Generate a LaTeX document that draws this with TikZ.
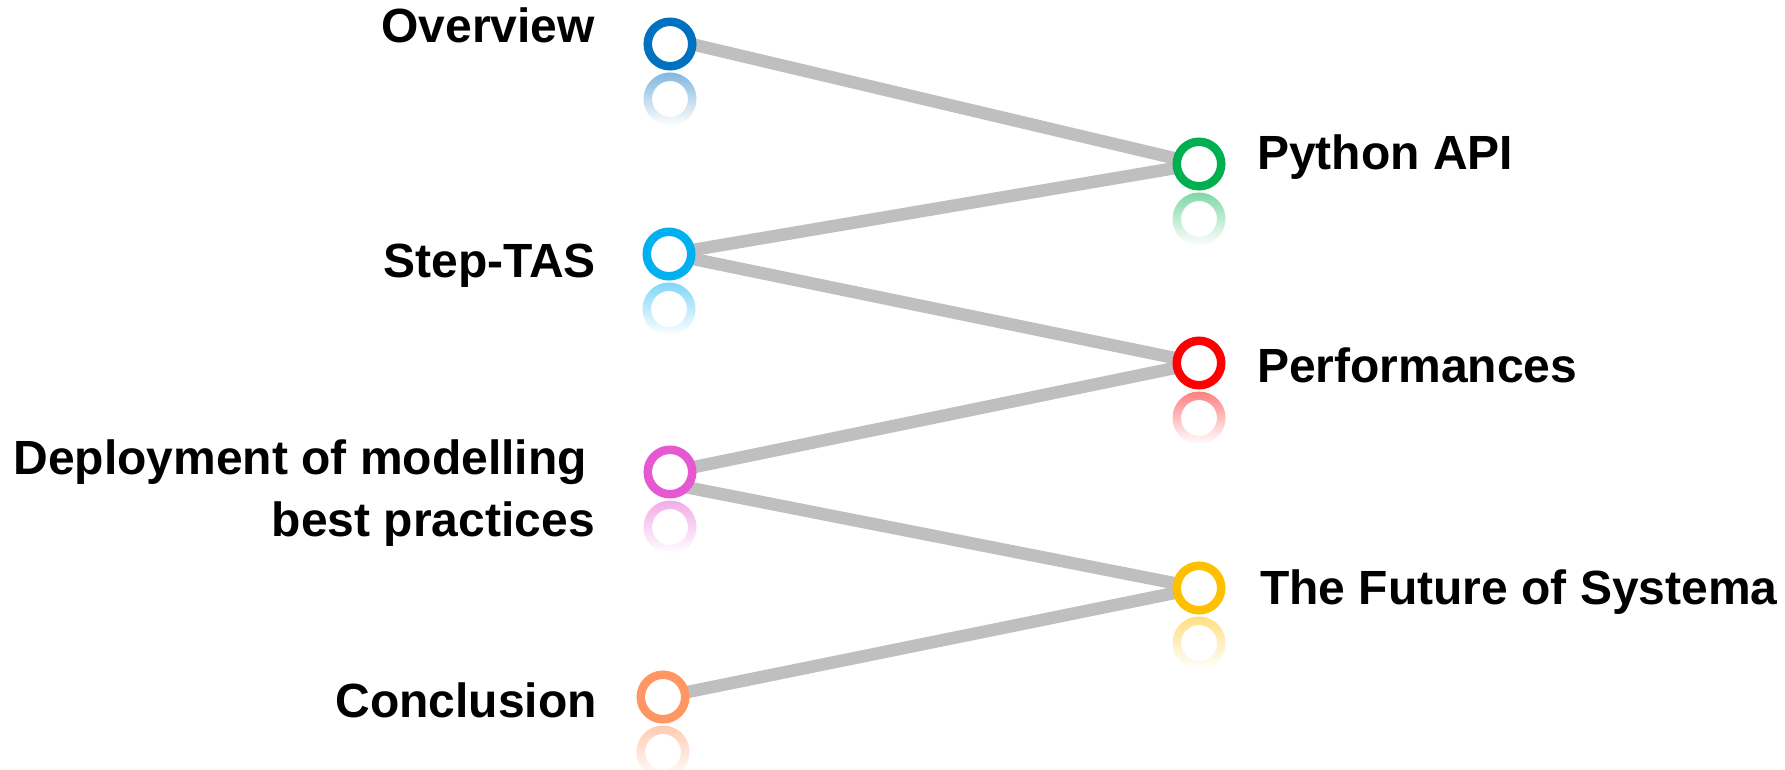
\documentclass[tikz,border=0pt]{standalone}
\usepackage{fontspec}
\setmainfont{Liberation Sans}
\usetikzlibrary{fadings}
\pgfdeclarelayer{bg}
\pgfsetlayers{bg,main}
\definecolor{ovc}{RGB}{0,112,192}
\definecolor{stc}{RGB}{0,176,240}
\definecolor{dpc}{RGB}{229,88,210}
\definecolor{ccc}{RGB}{255,150,100}
\definecolor{pyc}{RGB}{0,176,80}
\definecolor{pfc}{RGB}{255,0,0}
\definecolor{fuc}{RGB}{255,192,0}
\definecolor{linec}{RGB}{191,191,191}
\tikzfading[name=reflfade, top color=transparent!50, bottom color=transparent!100]
\tikzset{
  ringnode/.style={circle, draw=#1, line width=8.5pt, fill=white, minimum size=44.5pt, inner sep=0pt},
  refl/.style={draw=#1, line width=8.5pt, path fading=reflfade},
  conn/.style={draw=linec, line width=12.5pt},
  lab/.style={inner sep=0pt, font=\bfseries\fontsize{48}{58}\selectfont, text=black},
}
\begin{document}
\begin{tikzpicture}[x=1pt, y=-1pt]
\useasboundingbox (0,0) rectangle (1785,769);
% circles
\node[ringnode=ovc] (ov) at (670,44) {};
\node[ringnode=stc] (st) at (669,254) {};
\node[ringnode=dpc] (dp) at (670,472) {};
\node[ringnode=ccc] (cc) at (663,697) {};
\node[ringnode=pyc] (py) at (1199,164) {};
\node[ringnode=pfc] (pf) at (1199,363) {};
\node[ringnode=fuc] (fu) at (1199,588) {};
% reflections
\foreach \n/\c in {ov/ovc, st/stc, dp/dpc, cc/ccc, py/pyc, pf/pfc, fu/fuc}{
  \path[refl=\c] ([yshift=-55pt]\n.center) circle (22.25pt);
}
% connectors
\begin{pgfonlayer}{bg}
\fill[white] (0,0) rectangle (1785,769);
\draw[conn] ([yshift=5pt]ov.center) -- (py.center);
\draw[conn] (st.center) -- (py.center);
\draw[conn] (st.center) -- (pf.center);
\draw[conn] (dp.center) -- (pf.center);
\draw[conn] ([yshift=-12pt]dp.center) -- (fu.center);
\draw[conn] (cc.center) -- (fu.center);
\end{pgfonlayer}
% labels
\node[lab, anchor=base east] (tov) at (595,42) {Overview};
\node[lab, anchor=base east] (tst) at (596,277) {Step-TAS};
\node[lab, anchor=base east] (tdp1) at (587,474) {Deployment of modelling};
\node[lab, anchor=base east] (tdp2) at (595,536) {best practices};
\node[lab, anchor=base east] (tcc) at (597,717) {Conclusion};
\node[lab, anchor=base west] (tpy) at (1257,169) {Python API};
\node[lab, anchor=base west] (tpf) at (1257,382) {Performances};
\node[lab, anchor=base west] (tfu) at (1260,604) {The Future of Systema};
\end{tikzpicture}
\end{document}
